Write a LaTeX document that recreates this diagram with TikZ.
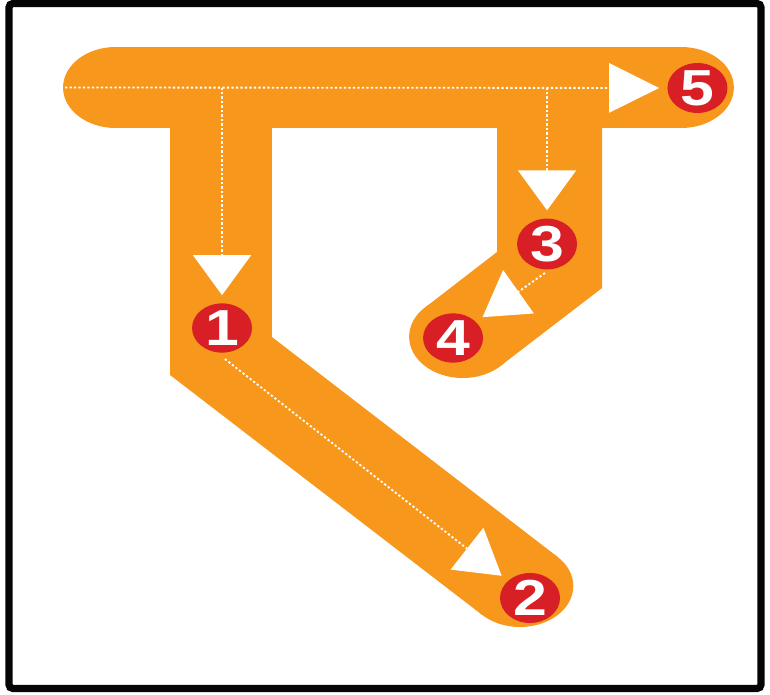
\documentclass[tikz,border=0pt]{standalone}
\usepackage{fontspec}
\setmainfont{Liberation Sans}
\usetikzlibrary{arrows.meta,shapes.geometric}
\tikzset{pxgrid/.style={x=0.325mm,y=-0.25mm}}
\definecolor{glaranja}{HTML}{F7981D}
\definecolor{gvermelho}{HTML}{D91F26}
\definecolor{gmoldura}{HTML}{050505}
\tikzset{
  glifo/.style={fill=glaranja,draw=none},
  guia/.style={draw=white,line width=1.3pt,dash pattern=on 1.6pt off 1.6pt,shorten >=2mm},
  marca/.style={ellipse,fill=gvermelho,text=white,inner sep=0pt,minimum width=15mm,
    minimum height=11.25mm,font=\fontsize{36}{36}\selectfont\bfseries},
  moldura/.style={draw=gmoldura,line width=1.8mm,rounded corners=1mm},
}

\begin{document}
\begin{tikzpicture}[pxgrid,
  setah/.style={-{Triangle[length=12.5mm,width=12.3mm]}},
  setav/.style={-{Triangle[length=10mm,width=14.5mm]}},
  setad/.style={-{Triangle[length=11mm,width=13.2mm]}}]
  \useasboundingbox (0,0) rectangle (592.3,694);
  \draw[moldura] (6.9,3.5) rectangle (585.4,688.5);
  % barra de cima
  \fill[glifo] (89,87.5) circle[radius=40.5];
  \fill[glifo] (524,87.5) circle[radius=40.5];
  \fill[glifo] (89,47) rectangle (524,128);
  % haste da esquerda e diagonal
  \fill[glifo] (130.8,100) -- (209.2,100) -- (209.2,337) -- (429,557) -- (371,615) -- (130.8,375) -- cycle;
  \fill[glifo] (400,586) circle[radius=41];
  % haste da direita
  \fill[glifo] (382.3,100) -- (463.1,100) -- (463.1,288) -- (385.1,365.8) -- (326.9,307.6) -- (382.3,252) -- cycle;
  \fill[glifo] (356,336.7) circle[radius=41.3];
  % marcas
  \node[marca] (n1) at (170.8,328) {\scalebox{1.2}[1]{1}};
  \node[marca] (n2) at (407.7,598) {\scalebox{1.2}[1]{2}};
  \node[marca] (n3) at (420.8,244) {\scalebox{1.2}[1]{3}};
  \node[marca] (n4) at (348.5,338) {\scalebox{1.2}[1]{4}};
  \node[marca] (n5) at (536.5,88) {\scalebox{1.2}[1]{5}};
  \coordinate (i5) at (50,87.5);
  \coordinate (i1) at (170.8,87.5);
  \coordinate (i3) at (420.8,87.5);
  \coordinate (i2) at (173,359);
  \coordinate (i4) at (419.2,273);
  \draw[guia,setah] (i5) -- (n5);
  \draw[guia,setav] (i1) -- (n1);
  \draw[guia,setav] (i3) -- (n3);
  \draw[guia,setad] (i2) -- (n2);
  \draw[guia,setad] (i4) -- (n4);
\end{tikzpicture}
\end{document}
